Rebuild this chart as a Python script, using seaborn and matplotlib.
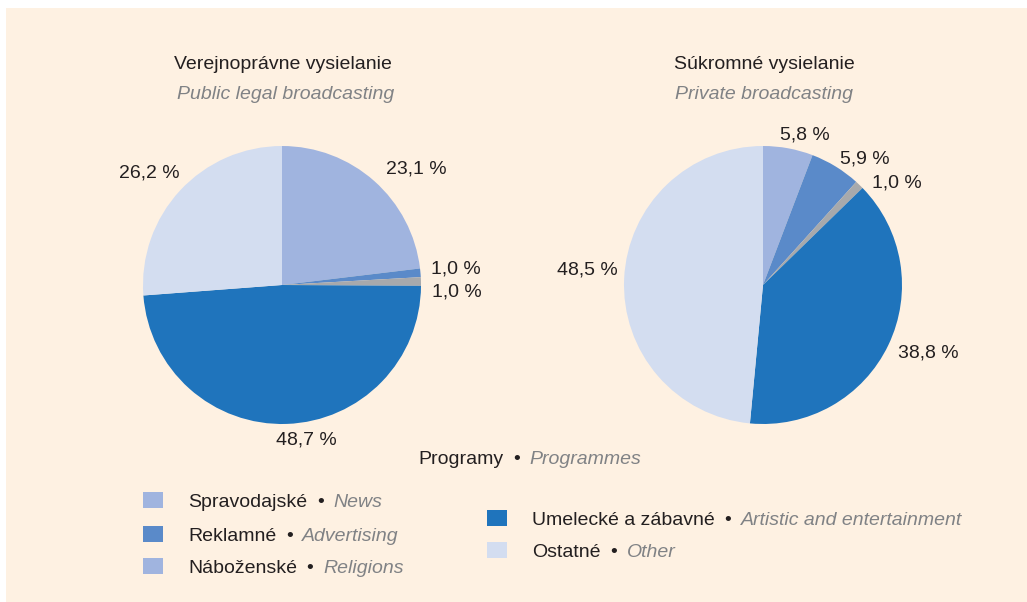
import matplotlib
matplotlib.use("Agg")
import matplotlib.pyplot as plt
import seaborn as sns
import numpy as np
from matplotlib.patches import Rectangle

# --- dati ---
categorie = ["Spravodajské", "Reklamné", "Náboženské", "Umelecké a zábavné", "Ostatné"]
categorie_en = ["News", "Advertising", "Religions", "Artistic and entertainment", "Other"]
verejne = [23.1, 1.0, 1.0, 48.7, 26.2]
sukromne = [5.8, 5.9, 1.0, 38.8, 48.5]
titoli = ["Verejnoprávne vysielanie", "Súkromné vysielanie"]
titoli_en = ["Public legal broadcasting", "Private broadcasting"]

colori = ["#A0B4DF", "#5A8AC9", "#A7A9AC", "#1F74BC", "#D3DDF0"]
colori_legenda = ["#A0B4DF", "#5A8AC9", "#A0B4DF", "#1F74BC", "#D3DDF0"]
SFONDO = "#FEF1E2"
SCURO = "#231F20"
GRIGIO = "#808285"
FS = 14

sns.set_theme(style="white")
plt.rcParams["font.family"] = ["Liberation Sans", "DejaVu Sans"]

W, H = 1027, 602
fig = plt.figure(figsize=(W / 100, H / 100), dpi=100)
fig.patch.set_facecolor("white")
fig.patches.append(Rectangle((6 / W, 0), 1, 1 - 8 / H, transform=fig.transFigure,
                             facecolor=SFONDO, edgecolor="none", zorder=-5))
renderer = fig.canvas.get_renderer()


def px(x, y):
    return x / W, 1 - y / H


def pt(x, y):
    # posizione per i testi (piccola correzione verticale)
    return px(x, y + 2.5)


def testo_doppio(x, y, a, b, size=FS, ha="left"):
    """scrive 'a • b' con b in corsivo grigio"""
    fx, fy = pt(x, y)
    t1 = fig.text(fx, fy, a, color=SCURO, fontsize=size, va="center")
    t2 = fig.text(fx, fy, "\u2022", color=SCURO, fontsize=size, va="center", ha="center")
    t3 = fig.text(fx, fy, b, color=GRIGIO, fontsize=size, style="italic", va="center")
    w1 = t1.get_window_extent(renderer).width / W
    w3 = t3.get_window_extent(renderer).width / W
    g1, g2 = 13 / W, 13 / W
    if ha == "center":
        fx = fx - (w1 + g1 + g2 + w3) / 2
    t1.set_x(fx)
    t2.set_x(fx + w1 + g1)
    t3.set_x(fx + w1 + g1 + g2)


# nudges (gradi, distanza) per le etichette
offs = [
    [(-7, 1.29), (1, 1.26), (-3, 1.26), (7, 1.11), (2, 1.26)],
    [(-5, 1.14), (-7, 1.18), (-8, 1.22), (4, 1.28), (-3, 1.27)],
]

for k, (valori, cx) in enumerate([(verejne, 282), (sukromne, 763)]):
    r = 139
    x0, y0 = px(cx - r, 285 + r)
    ax = fig.add_axes([x0, y0, 2 * r / W, 2 * r / H])
    ax.set_facecolor("none")
    wedges, _ = ax.pie(valori, colors=colori, startangle=90, counterclock=False,
                       radius=1, wedgeprops=dict(linewidth=0))
    ax.set_xlim(-1, 1)
    ax.set_ylim(-1, 1)
    ax.set_aspect("auto")
    ax.axis("off")
    for w, v, (da, d) in zip(wedges, valori, offs[k]):
        ang = np.deg2rad((w.theta1 + w.theta2) / 2 + da)
        ax.text(d * np.cos(ang), d * np.sin(ang) - 2.5 / r, f"{v:.1f} %".replace(".", ","),
                ha="center", va="center", fontsize=FS, color=SCURO, clip_on=False)
    fx, fy = pt(cx + 1, 62)
    fig.text(fx, fy, titoli[k], ha="center", va="center", fontsize=FS, color=SCURO)
    fx, fy = pt(cx + (4 if k == 0 else 1), 92)
    fig.text(fx, fy, titoli_en[k], ha="center", va="center", fontsize=FS,
             color=GRIGIO, style="italic")

testo_doppio(530, 457, "Programy", "Programmes", ha="center")

# legenda
righe = [(143, 500), (143, 534), (143, 566), (487, 518), (487, 550)]
for (x, y), c, a, b in zip(righe, colori_legenda, categorie, categorie_en):
    fx, fy = px(x, y + 8)
    fig.patches.append(Rectangle((fx, fy), 20 / W, 16 / H, transform=fig.transFigure,
                                 facecolor=c, edgecolor="none"))
    testo_doppio(x + 45, y, a, b)

fig.savefig("out.png", dpi=100, facecolor=fig.get_facecolor())
